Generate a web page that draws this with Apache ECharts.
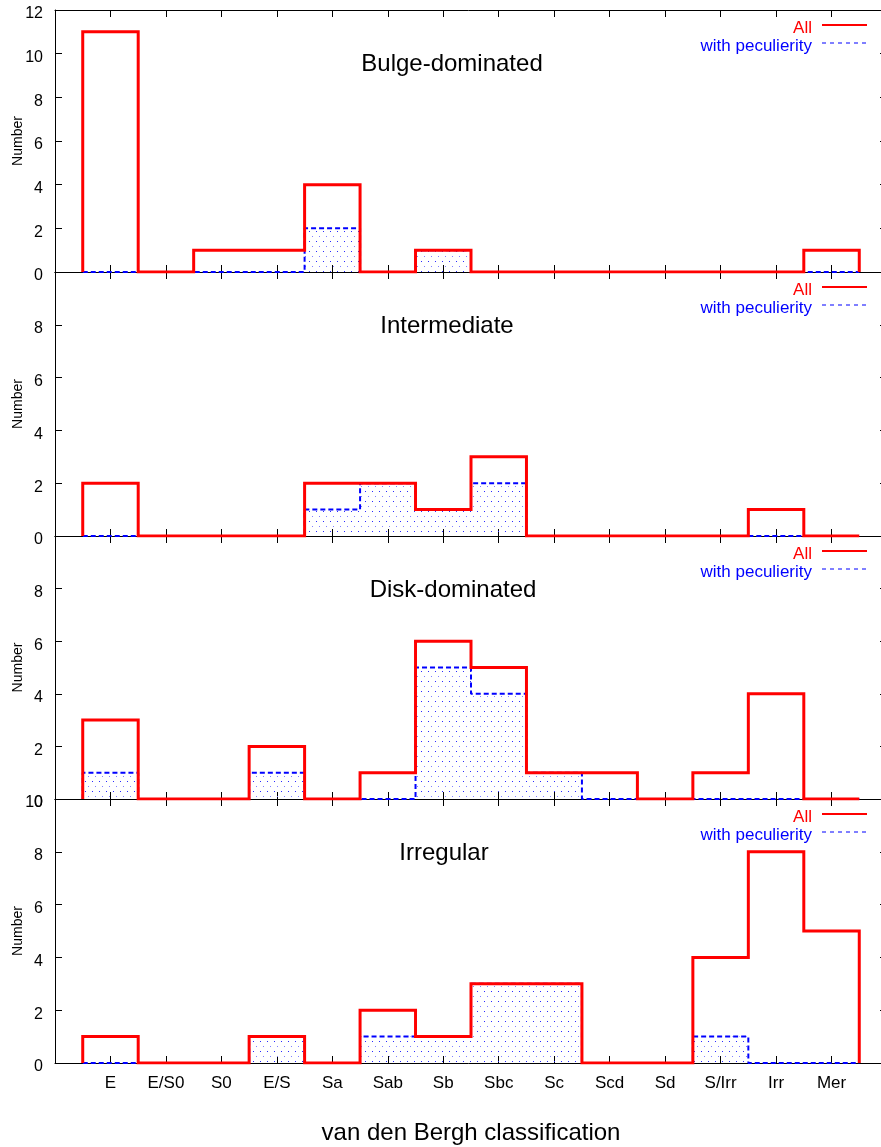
<!DOCTYPE html>
<html>
<head>
<meta charset="utf-8">
<script src="https://cdn.jsdelivr.net/npm/echarts@6/dist/echarts.min.js"></script>
<style>
  html, body { margin: 0; padding: 0; background: #fff; }
  #chart { width: 881px; height: 1147px; }
</style>
</head>
<body>
<div id="chart"></div>
<script>
  // van den Bergh classes
  const categories = ['E', 'E/S0', 'S0', 'E/S', 'Sa', 'Sab', 'Sb', 'Sbc', 'Sc', 'Scd', 'Sd', 'S/Irr', 'Irr', 'Mer'];

  const bulgeAll = [11, 0, 1, 1, 4, 0, 1, 0, 0, 0, 0, 0, 0, 1];
  const bulgePec = [0, 0, 0, 0, 2, 0, 1, 0, 0, 0, 0, 0, 0, 0];
  const interAll = [2, 0, 0, 0, 2, 2, 1, 3, 0, 0, 0, 0, 1, 0];
  const interPec = [0, 0, 0, 0, 1, 2, 1, 2, 0, 0, 0, 0, 0, 0];
  const diskAll = [3, 0, 0, 2, 0, 1, 6, 5, 1, 1, 0, 1, 4, 0];
  const diskPec = [1, 0, 0, 1, 0, 0, 5, 4, 1, 0, 0, 0, 0, 0];
  const irrAll = [1, 0, 0, 1, 0, 2, 1, 3, 3, 0, 0, 4, 8, 5];
  const irrPec = [0, 0, 0, 1, 0, 1, 1, 3, 3, 0, 0, 1, 0, 0];

  const panelTitles = ['Bulge-dominated', 'Intermediate', 'Disk-dominated', 'Irregular'];
  const yMax = [12, 10, 10, 10];

  const panels = [
    { all: bulgeAll, pec: bulgePec },
    { all: interAll, pec: interPec },
    { all: diskAll, pec: diskPec },
    { all: irrAll, pec: irrPec }
  ];

  // layout of the four stacked plots
  const tops = [10, 272, 536, 799];
  const heights = [262, 264, 263, 264];
  const titleX = [452, 447, 453, 444];
  const FONT = '"Liberation Sans", Arial, sans-serif';

  // histogram outline: step points at the bin edges
  function steps(vals) {
    const pts = [[0.5, 0]];
    vals.forEach((v, i) => {
      pts.push([i + 0.5, v], [i + 1.5, v]);
    });
    pts.push([vals.length + 0.5, 0]);
    return pts;
  }

  // dotted fill
  const pc = document.createElement('canvas');
  pc.width = 7; pc.height = 10;
  const pctx = pc.getContext('2d');
  pctx.fillStyle = '#2a2aff';
  pctx.fillRect(1, 1, 1, 1);
  pctx.fillStyle = '#8080ff';
  pctx.fillRect(4, 6, 1, 1);

  const grid = [], xAxis = [], yAxis = [], series = [], graphic = [];

  panels.forEach((p, k) => {
    const last = k === panels.length - 1;
    grid.push({ left: 55, width: 832, top: tops[k], height: heights[k], outerBoundsMode: 'none', containLabel: false });

    const tick = { inside: true, length: 7, lineStyle: { color: '#000', width: 1 } };
    const line = { show: true, onZero: false, lineStyle: { color: '#000', width: 1 } };

    xAxis.push({
      type: 'value', gridIndex: k, min: 0, max: 15, interval: 1, position: 'bottom',
      axisLine: line, axisTick: tick, splitLine: { show: false },
      axisLabel: {
        show: last, margin: 12, color: '#000', fontFamily: FONT, fontSize: 17,
        formatter: v => categories[v - 1] || ''
      },
      name: last ? 'van den Bergh classification' : '',
      nameLocation: 'middle', nameGap: 58, nameMoveOverlap: false,
      nameTextStyle: { color: '#000', fontFamily: FONT, fontSize: 24 }
    });
    xAxis.push({
      type: 'value', gridIndex: k, min: 0, max: 15, interval: 1, position: 'top',
      axisLine: line, axisTick: tick, axisLabel: { show: false }, splitLine: { show: false }
    });

    yAxis.push({
      type: 'value', gridIndex: k, min: 0, max: yMax[k], interval: 2, position: 'left',
      axisLine: line, axisTick: tick, splitLine: { show: false },
      axisLabel: {
        margin: 12, color: '#000', fontFamily: FONT, fontSize: 16,
        verticalAlign: 'top', lineHeight: 8,
        showMaxLabel: k === 0 || last
      },
      name: 'Number', nameLocation: 'middle', nameGap: 30, nameRotate: 90, nameMoveOverlap: false,
      nameTextStyle: { color: '#000', fontFamily: FONT, fontSize: 14 }
    });
    yAxis.push({
      type: 'value', gridIndex: k, min: 0, max: yMax[k], interval: 2, position: 'right',
      axisLine: line, axisTick: tick, axisLabel: { show: false }, splitLine: { show: false }
    });

    series.push({
      name: 'with peculierity', type: 'line', xAxisIndex: 2 * k, yAxisIndex: 2 * k,
      data: steps(p.pec), showSymbol: false, symbol: 'none', z: 3,
      lineStyle: { color: '#0000ff', width: 2, type: [5, 3] },
      areaStyle: { color: { image: pc, repeat: 'repeat' }, opacity: 1 },
      animation: false
    });
    series.push({
      name: 'All', type: 'line', xAxisIndex: 2 * k, yAxisIndex: 2 * k,
      data: steps(p.all), showSymbol: false, symbol: 'none', z: 4,
      lineStyle: { color: '#ff0000', width: 3, join: 'miter' },
      animation: false
    });

    const t = tops[k];
    graphic.push(
      { type: 'text', x: titleX[k], y: t + 54,
        style: { text: panelTitles[k], fill: '#000', font: '24px ' + FONT, align: 'center', verticalAlign: 'middle' } },
      { type: 'text', x: 812, y: t + 18,
        style: { text: 'All', fill: '#ff0000', font: '17px ' + FONT, align: 'right', verticalAlign: 'middle' } },
      { type: 'line', shape: { x1: 822, y1: t + 15, x2: 867, y2: t + 15 },
        style: { stroke: '#ff0000', lineWidth: 2 } },
      { type: 'text', x: 812, y: t + 36,
        style: { text: 'with peculierity', fill: '#0000ff', font: '17px ' + FONT, align: 'right', verticalAlign: 'middle' } },
      { type: 'line', shape: { x1: 822, y1: t + 33, x2: 867, y2: t + 33 },
        style: { stroke: '#0000ff', lineWidth: 1, lineDash: [4, 4] } }
    );
  });

  const chart = echarts.init(document.getElementById('chart'));
  chart.setOption({
    backgroundColor: '#fff',
    animation: false,
    grid: grid,
    xAxis: xAxis,
    yAxis: yAxis,
    series: series,
    graphic: graphic
  });
</script>
</body>
</html>
